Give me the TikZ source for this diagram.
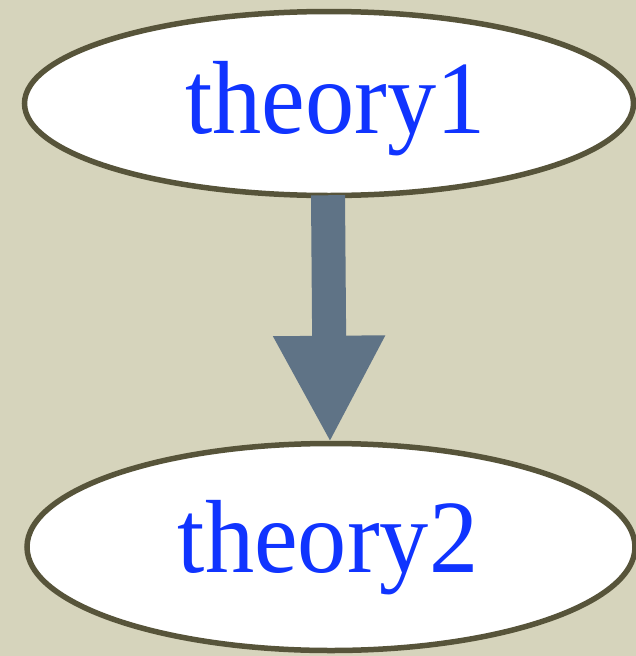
\documentclass[tikz,border=0pt]{standalone}
\usepackage{fontspec}
\setmainfont[FakeStretch=0.945]{Liberation Serif}
\usetikzlibrary{shapes.geometric,arrows.meta}
\definecolor{bgbeige}{HTML}{D6D4BC}
\definecolor{edgeolive}{HTML}{57543A}
\definecolor{txtblue}{HTML}{1034FF}
\definecolor{arrowslate}{HTML}{5F7386}
\tikzset{
  theorynode/.style={ellipse, draw=edgeolive, line width=5.5pt, fill=white, inner sep=0pt,
    text=txtblue, font=\fontsize{104}{120}\selectfont, text depth=0pt},
  bigarrow/.style={draw=arrowslate, line width=34pt, -{Triangle[width=104pt,length=107pt,fill=arrowslate]}}
}
\begin{document}
\begin{tikzpicture}[x=1pt,y=-1pt]
\fill[bgbeige] (0,0) rectangle (636,656);
\useasboundingbox (0,0) rectangle (636,656);
\node[theorynode, minimum width=609pt, minimum height=184pt, text height=59pt] (t1) at (329,103.5) {\hspace*{13pt}theory1};
\node[theorynode, minimum width=608pt, minimum height=207pt, text height=50pt] (t2) at (331,547) {theory2\hspace*{6pt}};
\draw[bigarrow] ([xshift=-1pt,yshift=3pt]t1.south) -- ([xshift=-1pt,yshift=-2pt]t2.north);
\end{tikzpicture}
\end{document}
